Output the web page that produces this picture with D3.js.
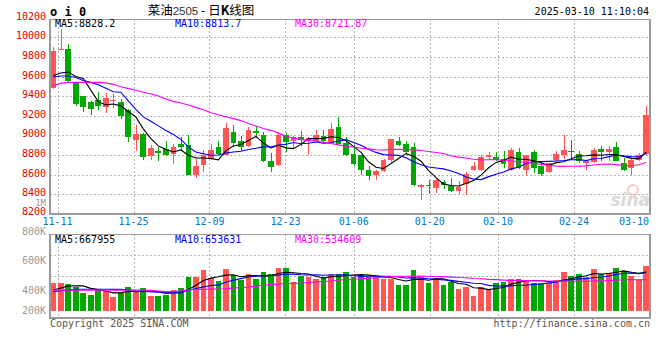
<!DOCTYPE html>
<html><head><meta charset="utf-8">
<script src="https://cdn.jsdelivr.net/npm/d3@7"></script>
<style>html,body{margin:0;padding:0;background:#fff;} svg{display:block;}</style>
</head><body><svg id="c" width="660" height="360"></svg>
<script>
// ---------------- data ----------------
const dates = ["11-08","11-11","11-12","11-13","11-14","11-15","11-18","11-19","11-20","11-21","11-22","11-25","11-26","11-27","11-28","11-29","12-02","12-03","12-04","12-05","12-06","12-09","12-10","12-11","12-12","12-13","12-16","12-17","12-18","12-19","12-20","12-23","12-24","12-25","12-26","12-27","12-30","12-31","01-02","01-03","01-06","01-07","01-08","01-09","01-10","01-13","01-14","01-15","01-16","01-17","01-20","01-21","01-22","01-23","01-24","01-27","02-05","02-06","02-07","02-10","02-11","02-12","02-13","02-14","02-17","02-18","02-19","02-20","02-21","02-24","02-25","02-26","02-27","02-28","03-03","03-04","03-05","03-06","03-07","03-10"];
const open  = [9482,9880,9880,9540,9397,9343,9363,9289,9360,9343, 9261,8955,9016,8785,8836,8863,8809,8914,8904,8598, 8693,8758,8877,8802,9030,8945,8887,9040,9006,8734, 8693,9006,8938,8986,8955,8945,8996,8921,9081,8920, 8812,8795,8649,8591,8632,8751,8945,8914,8877,8469, 8490,8462,8520,8479,8435,8503,8649,8649,8775,8782, 8758,8649,8826,8642,8826,8690,8622,8744,8802,8843, 8809,8724,8727,8863,8826,8877,8717,8666,8751,8809];
const high  = [9897,10080,9935,9545,9405,9353,9442,9435,9421,9374, 9270,9108,9020,8898,8881,8945,8915,8986,8999,8761, 8853,8911,8938,9125,9101,8989,9081,9091,9030,8815, 9030,9023,8996,9040,8983,9057,9050,9125,9183,8980, 8904,8800,8683,8649,8761,8965,8983,8945,8921,8506, 8543,8564,8547,8564,8530,8622,8724,8795,8829,8826, 8836,8867,8870,8802,8853,8724,8717,8836,9006,8948, 8836,8751,8870,8887,8894,8928,8768,8775,8815,9295];
const low   = [9470,9873,9545,9300,9241,9203,9254,9224,9275,9170, 8928,8843,8744,8751,8734,8792,8707,8836,8590,8564, 8625,8747,8800,8795,8877,8843,8880,8972,8724,8624, 8690,8826,8870,8887,8802,8940,8911,8915,8910,8785, 8690,8591,8541,8547,8625,8724,8887,8820,8486,8343, 8401,8415,8455,8420,8401,8394,8640,8640,8761,8740, 8666,8640,8660,8581,8611,8588,8615,8740,8761,8758, 8717,8649,8720,8741,8734,8735,8640,8595,8740,8800];
const close = [9856,9885,9550,9322,9285,9265,9295,9384,9365,9193, 8979,9016,8775,8870,8819,8802,8884,8877,8598,8683, 8802,8853,8809,9070,8917,8877,9057,9020,8734,8672, 9006,8928,8979,8952,8969,9000,8945,9061,8914,8802, 8710,8642,8581,8632,8744,8965,8897,8826,8496,8496, 8479,8540,8496,8428,8472,8605,8690,8775,8802,8744, 8710,8853,8666,8802,8666,8608,8717,8812,8846,8826, 8741,8734,8853,8826,8863,8741,8642,8751,8802,9210];
const volumeK = [483,483,460,403,311,270,374,345,242,311, 409,328,391,253,253,270,357,391,581,581, 702,558,512,719,610,529,633,547,668,633, 737,737,495,604,587,547,575,616,633,673, 575,616,575,575,552,552,443,443,702,575, 472,558,443,500,374,409,259,409,368,472, 500,547,547,529,483,483,472,529,673,604, 633,575,719,633,656,742,690,604,529,777];
// moving-average values for the first days (before a full window exists)
const priceMa5Head  = [9610,9635,9645,9600];
const priceMa10Head = [9595,9605,9605,9590,9560,9540,9515,9480,9445];
const priceMa30Head = [9505,9530,9540,9540,9540,9540,9540,9535,9520,9495,9476,9460,9440,9424,9400,9370,9346,9330,9310,9285,9261,9230,9210,9190,9170,9150,9120,9095,9070];
const volMa5Head  = [357,390,425,430];
const volMa10Head = [330,345,360,368,370,370,370,370,368];
const volMa30Head = [355,355,355,355,355,355,355,355,355,355,355,355,355,350,340,330,330,345,360,368,370,372,375,380,390,400,410,425,440];

const priceTicks = [10200,10000,9800,9600,9400,9200,9000,8800,8600,8400,8200];
const dateTicks = ["11-11","11-25","12-09","12-23","01-06","01-20","02-10","02-24","03-10"];
const volTickValues = [800,600,400,200];
const volTickLabels = ["800K","600K","400K","200K"];
const priceLegend = ["MA5:8828.2","MA10:8813.7","MA30:8721.87"];
const volLegend = ["MA5:667955","MA10:653631","MA30:534609"];
const titleParts = ["菜油","2505"," - 日","K","线图"];
const stamp = "2025-03-10 11:10:04";

// ---------------- helpers ----------------
function movingAvg(vals, n, head){
  return vals.map((v,i)=> i < n-1 ? head[i] : d3.mean(vals.slice(i-n+1,i+1)));
}
const N = dates.length;
const idx = d3.range(N);
const pMA = [movingAvg(close,5,priceMa5Head), movingAvg(close,10,priceMa10Head), movingAvg(close,30,priceMa30Head)];
const vMA = [movingAvg(volumeK,5,volMa5Head), movingAvg(volumeK,10,volMa10Head), movingAvg(volumeK,30,volMa30Head)];
const maColors = ["#000000","#0000ff","#ff00ff"];
const UP = "#ff5555", DOWN = "#00a800";
const isUp = i => close[i] >= open[i];

// ---------------- layout ----------------
const svg = d3.select("#c");
const L = 50, R = 650;
const pTop = 19, pBot = 213.5;
const vTop = 234, vBot = 317.7;
const mono = "'DejaVu Sans Mono', monospace";

const x = d3.scaleBand().domain(idx).range([49.5, 650]).paddingInner(0.24).paddingOuter(0.12);
const cx = i => x(i) + x.bandwidth()/2;
const xg = d3.scaleLinear().domain([0, N-1]).range([L, R]);
const y = d3.scaleLinear().domain([8200,10200]).range([213.7, 17.7]);
const yv = d3.scaleLinear().domain([0,1324]).range([310.7, vTop]);
const yvLabel = d3.scaleLinear().domain([200,800]).range([320, 231]);

svg.append("rect").attr("width",660).attr("height",360).attr("fill","#fff");

const defs = svg.append("defs");
defs.append("clipPath").attr("id","pclip").append("rect").attr("x",L).attr("y",pTop).attr("width",R-L).attr("height",pBot-pTop);
defs.append("clipPath").attr("id","vclip").append("rect").attr("x",L).attr("y",vTop).attr("width",R-L).attr("height",vBot-vTop);

// ---------------- grid ----------------
const grid = svg.append("g").attr("stroke","#b4b4b4").attr("stroke-width",1).attr("stroke-dasharray","2,2").attr("shape-rendering","crispEdges");
priceTicks.filter(v=>v>8200 && v<10200).forEach(v=>{
  grid.append("line").attr("x1",L).attr("x2",R).attr("y1",Math.round(y(v))+0.5).attr("y2",Math.round(y(v))+0.5);
});
[1,2,3].forEach(k=>{
  const yy = Math.round(vTop + k*(vBot-vTop)/4)+0.5;
  grid.append("line").attr("x1",L).attr("x2",R).attr("y1",yy).attr("y2",yy);
});
const tickIdx = dateTicks.map(d=>dates.indexOf(d));
tickIdx.filter(i=>i<N-1).forEach(i=>{
  const xx = Math.round(xg(i))+0.5;
  grid.append("line").attr("x1",xx).attr("x2",xx).attr("y1",pTop).attr("y2",pBot);
  grid.append("line").attr("x1",xx).attr("x2",xx).attr("y1",vTop).attr("y2",vBot);
});

// ---------------- candles ----------------
const cg = svg.append("g").attr("clip-path","url(#pclip)").attr("shape-rendering","crispEdges");
idx.forEach(i=>{
  const col = isUp(i) ? UP : DOWN;
  const xc = Math.round(cx(i))+0.5;
  cg.append("line").attr("x1",xc).attr("x2",xc).attr("y1",y(high[i])).attr("y2",y(low[i])).attr("stroke",col).attr("stroke-width",1);
  const top = y(Math.max(open[i],close[i])), bot = y(Math.min(open[i],close[i]));
  cg.append("rect").attr("x",x(i)).attr("width",x.bandwidth()).attr("y",top).attr("height",Math.max(1.2,bot-top)).attr("fill",col);
});
const pl = svg.append("g").attr("clip-path","url(#pclip)");
pMA.forEach((arr,k)=>{
  pl.append("path").attr("d", d3.line().x(i=>cx(i)).y(i=>y(arr[i]))(idx)).attr("fill","none").attr("stroke",maColors[k]).attr("stroke-width",1.1);
});

// ---------------- volume ----------------
const vg = svg.append("g").attr("clip-path","url(#vclip)").attr("shape-rendering","crispEdges");
idx.forEach(i=>{
  vg.append("rect").attr("x",x(i)).attr("width",x.bandwidth()).attr("y",yv(volumeK[i])).attr("height",yv(0)-yv(volumeK[i])).attr("fill",isUp(i)?UP:DOWN);
});
const vl = svg.append("g").attr("clip-path","url(#vclip)");
vMA.forEach((arr,k)=>{
  vl.append("path").attr("d", d3.line().x(i=>cx(i)).y(i=>yv(arr[i]))(idx)).attr("fill","none").attr("stroke",maColors[k]).attr("stroke-width",1.1);
});

// ---------------- watermark ----------------
const wm = svg.append("g").attr("opacity",0.55);
wm.append("circle").attr("cx",633).attr("cy",190).attr("r",5).attr("fill","none").attr("stroke","#f0a0a0").attr("stroke-width",2);
wm.append("text").attr("x",650).attr("y",206).attr("text-anchor","end").attr("font-family","'DejaVu Sans', sans-serif").attr("font-style","italic").attr("font-weight","bold").attr("font-size",17).attr("fill","#bbbbbb").text("sina");

// ---------------- frames ----------------
const fr = svg.append("g").attr("fill","none").attr("stroke","#9a9a9a").attr("shape-rendering","crispEdges");
fr.append("line").attr("x1",L).attr("x2",R).attr("y1",pTop+0.5).attr("y2",pTop+0.5);
fr.append("line").attr("x1",L).attr("x2",R).attr("y1",pBot).attr("y2",pBot).attr("stroke-width",2);
fr.append("line").attr("x1",L).attr("x2",L).attr("y1",pTop).attr("y2",pBot+1).attr("stroke-width",2);
fr.append("line").attr("x1",R).attr("x2",R).attr("y1",pTop).attr("y2",pBot+1).attr("stroke-width",2);
fr.append("line").attr("x1",L).attr("x2",R).attr("y1",vTop+0.5).attr("y2",vTop+0.5);
fr.append("line").attr("x1",L).attr("x2",R).attr("y1",vBot).attr("y2",vBot).attr("stroke-width",2);
fr.append("line").attr("x1",L).attr("x2",L).attr("y1",vTop).attr("y2",vBot+1).attr("stroke-width",2);
fr.append("line").attr("x1",R).attr("x2",R).attr("y1",vTop).attr("y2",vBot+1).attr("stroke-width",2);

// ---------------- text ----------------
const T = svg.append("g").attr("font-family",mono).attr("font-size",10);
// header
T.append("text").attr("x",50).attr("y",16).attr("font-size",12).attr("font-weight","bold").attr("fill","#000").text("o i 0");
const title = T.append("text").attr("x",201).attr("y",15).attr("text-anchor","middle").attr("font-family","'Noto Sans CJK SC', sans-serif").attr("font-size",12.5).attr("fill","#000");
title.append("tspan").text(titleParts[0]);
title.append("tspan").attr("font-family","'Liberation Sans', sans-serif").attr("font-size",11.5).attr("fill","#333").text(titleParts[1]);
title.append("tspan").text(titleParts[2]);
title.append("tspan").attr("font-weight","bold").text(titleParts[3]);
title.append("tspan").text(titleParts[4]);
T.append("text").attr("x",649).attr("y",15).attr("text-anchor","end").attr("fill","#000").text(stamp);
// legends
[55,175,295].forEach((xx,k)=>T.append("text").attr("x",xx).attr("y",27).attr("fill",maColors[k]).text(priceLegend[k]));
[55,175,295].forEach((xx,k)=>T.append("text").attr("x",xx).attr("y",242.5).attr("fill",maColors[k]).text(volLegend[k]));
// price axis labels
priceTicks.forEach(v=>{
  T.append("text").attr("x",46).attr("y",Math.min(y(v),213)+2).attr("text-anchor","end").attr("fill","#e60000").text(v);
});
T.append("text").attr("x",46).attr("y",205.5).attr("font-size",9).attr("text-anchor","end").attr("fill","#999").text("1M");
// date labels
dateTicks.forEach((d,k)=>{
  const i = tickIdx[k];
  const last = i === N-1;
  T.append("text").attr("x", last ? 649 : xg(i)).attr("y",225).attr("text-anchor", last ? "end" : "middle").attr("fill","#0078d0").text(d);
});
// volume labels
volTickValues.forEach((v,k)=>{
  T.append("text").attr("x",46).attr("y",Math.min(yvLabel(v),310)+3.5).attr("text-anchor","end").attr("fill","#999").text(volTickLabels[k]);
});
// footer
T.append("text").attr("x",50).attr("y",327).attr("fill","#555").text("Copyright 2025 SINA.COM");
T.append("text").attr("x",650).attr("y",327).attr("text-anchor","end").attr("fill","#555").text("http://finance.sina.com.cn");
</script>
</body></html>
